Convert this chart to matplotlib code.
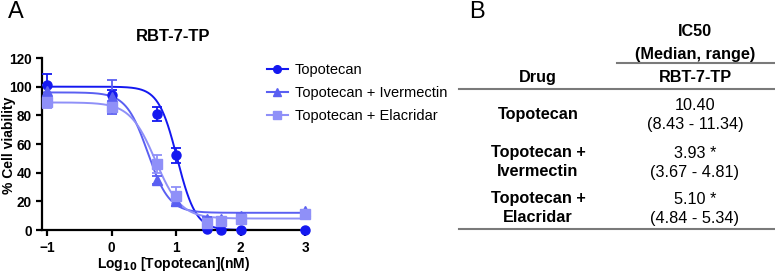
import numpy as np
from matplotlib import pyplot as plt
from matplotlib.lines import Line2D

plt.rcParams['font.family'] = ['Liberation Sans', 'DejaVu Sans']

# Panel A data: log10 concentration vs % viability
log_conc = [-1, 0, 0.7, 1, 1.48, 1.7, 2, 3]
topo = [101, 94, 81, 52, 0.5, 0, 0, 0]
topo_err = [8, 4, 5, 5, 0, 0, 0, 0]
iver = [97, 93, 35, 20, 8, 8, 10, 13]
iver_err = [4, 12, 3, 3, 1, 1, 1, 1]
elac = [89, 86, 46, 24, 5, 6, 8, 11]
elac_err = [4, 4, 6, 6, 1, 1, 1, 1]

# 4PL fit parameters: top, bottom, logIC50, hill
topo_fit = [100, 0, 1.017, 3.0]
iver_fit = [96, 12, 0.56, 2.6]
elac_fit = [89, 8, 0.68, 2.2]

series_names = ['Topotecan', 'Topotecan + Ivermectin', 'Topotecan + Elacridar']
colors = ['#1418f0', '#5a5ff2', '#8f90f8']
markers = ['o', '^', 's']

# Panel B table
drugs = [['Topotecan'], ['Topotecan +', 'Ivermectin'], ['Topotecan +', 'Elacridar']]
medians = ['10.40', '3.93 *', '5.10 *']
ranges = ['(8.43 - 11.34)', '(3.67 - 4.81)', '(4.84 - 5.34)']

W, H = 775, 276
fig = plt.figure(figsize=(W / 100, H / 100), dpi=100)

def fx(px):
    return px / W

def fy(py):
    return 1 - py / H

ax = fig.add_axes([fx(42), fy(230), fx(305 - 42), (230 - 58) / H])

xs = np.linspace(-1.08, 3, 400)
for vals, errs, fit, name, c, m in zip([topo, iver, elac], [topo_err, iver_err, elac_err],
                                       [topo_fit, iver_fit, elac_fit], series_names, colors, markers):
    top, bot, lic, h = fit
    curve = bot + (top - bot) / (1 + 10 ** ((xs - lic) * h))
    ax.plot(xs, curve, color=c, lw=1.4, clip_on=False)
    ax.errorbar(log_conc, vals, yerr=errs, fmt=m, color=c, ms=6.5, capsize=3.5,
                elinewidth=1.3, capthick=1.3, clip_on=False, zorder=3)

ax.set_xlim(-1.08, 3)
ax.set_ylim(0, 120)
ax.set_xticks([-1, 0, 1, 2, 3])
ax.set_yticks([0, 20, 40, 60, 80, 100, 120])
for s in ['top', 'right']:
    ax.spines[s].set_visible(False)
for s in ['left', 'bottom']:
    ax.spines[s].set_linewidth(1.6)
ax.tick_params(width=1.6, length=4, labelsize=9.8)
ax.tick_params(axis='x', pad=4)
for lbl in ax.get_xticklabels() + ax.get_yticklabels():
    lbl.set_fontweight('bold')
ax.set_title('RBT-7-TP', fontsize=12, fontweight='bold', pad=12)
fig.text(fx(174), fy(268), 'Log$_{\\mathbf{10}}$ [Topotecan](nM)', ha='center', va='baseline',
         fontsize=10, fontweight='bold')
fig.text(fx(9), fy(145), '% Cell viability', rotation=90, ha='center', va='center',
         fontsize=10, fontweight='bold')

handles = [Line2D([], [], color=c, marker=m, ms=5.5, lw=1.5) for c, m in zip(colors, markers)]
fig.legend(handles, series_names, loc='center left', bbox_to_anchor=(fx(254), fy(93)),
           frameon=False, fontsize=10.5, handlelength=1.4, labelspacing=0.62, handletextpad=0.5)

fig.text(fx(8), fy(1), 'A', fontsize=17, va='top')
fig.text(fx(469), fy(1), 'B', fontsize=17, va='top')

# table
col1, col2 = fx(538), fx(695)
fs = 11.7
fig.text(col2, fy(31), 'IC50', ha='center', va='center', fontsize=fs, fontweight='bold')
fig.text(col2, fy(54), '(Median, range)', ha='center', va='center', fontsize=fs, fontweight='bold')
fig.text(col1, fy(78), 'Drug', ha='center', va='center', fontsize=fs, fontweight='bold')
fig.text(col2, fy(78), 'RBT-7-TP', ha='center', va='center', fontsize=fs, fontweight='bold')
line_kw = dict(color='#7a7a7a', lw=1.5, transform=fig.transFigure)
fig.add_artist(Line2D([fx(617), fx(775)], [fy(63), fy(63)], **line_kw))
fig.add_artist(Line2D([fx(459), fx(775)], [fy(89), fy(89)], **line_kw))
fig.add_artist(Line2D([fx(459), fx(775)], [fy(229), fy(229)], **line_kw))

row_tops = [105, 152, 198]
for i, (d, med, rng) in enumerate(zip(drugs, medians, ranges)):
    y0 = row_tops[i]
    if len(d) == 1:
        fig.text(col1, fy(y0 + 9), d[0], ha='center', va='center', fontsize=fs, fontweight='bold')
    else:
        fig.text(col1, fy(y0), d[0], ha='center', va='center', fontsize=fs, fontweight='bold')
        fig.text(col1, fy(y0 + 19), d[1], ha='center', va='center', fontsize=fs, fontweight='bold')
    fig.text(col2, fy(y0 + 1), med, ha='center', va='center', fontsize=fs)
    fig.text(col2, fy(y0 + 20), rng, ha='center', va='center', fontsize=fs)

fig.savefig('out.png', dpi=100)
